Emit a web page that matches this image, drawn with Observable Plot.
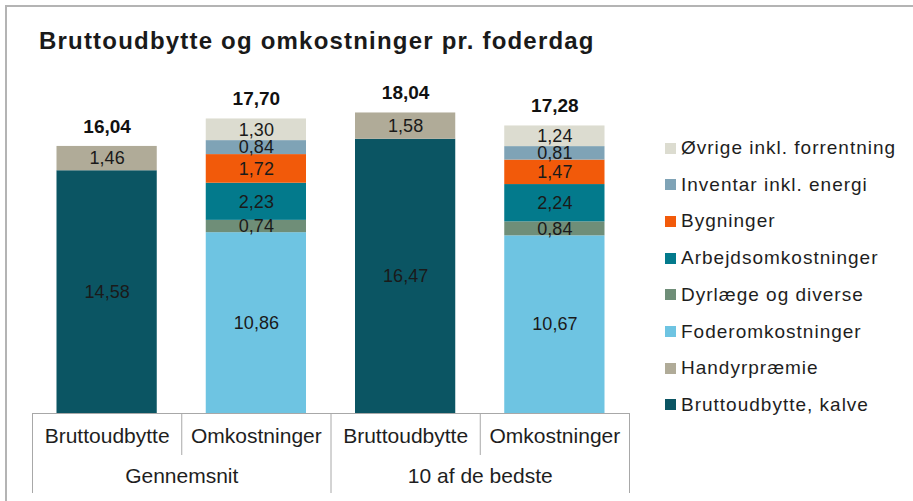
<!DOCTYPE html>
<html>
<head>
<meta charset="utf-8">
<script src="https://cdn.jsdelivr.net/npm/d3@7"></script>
<script src="https://cdn.jsdelivr.net/npm/@observablehq/plot@0.6"></script>
<style>
  html, body { margin: 0; padding: 0; background: #fff; }
  #wrap { position: relative; width: 913px; height: 501px; overflow: hidden; background: #fff;
          font-family: "Liberation Sans", Arial, sans-serif; color: #1a1a1a; }
  #frame { position: absolute; left: 5px; top: 5px; width: 1200px; height: 1200px;
           border-left: 2px solid #b4b4b4; border-top: 2px solid #b4b4b4; pointer-events: none; }
  #title { position: absolute; left: 39px; top: 26px; font-size: 24px; font-weight: bold;
           letter-spacing: 1.2px; white-space: nowrap; line-height: 30px; }
  #chart { position: absolute; left: 0; top: 0; }
  #legend { position: absolute; left: 0; top: 0; }
  .li { position: absolute; left: 665px; height: 24px; display: flex; align-items: center; white-space: nowrap; }
  .sw { width: 11px; height: 11px; margin-right: 5px; flex: none; }
  .lt { font-size: 19px; letter-spacing: 1px; color: #1e1e1e; }
</style>
</head>
<body>
<div id="wrap">
  <div id="chart"></div>
  <div id="title">Bruttoudbytte og omkostninger pr. foderdag</div>
  <div id="legend"></div>
  <div id="frame"></div>
</div>
<script>
// ---- data ----
const groups = ["Gennemsnit", "10 af de bedste"];
const categories = ["Bruttoudbytte", "Omkostninger", "Bruttoudbytte", "Omkostninger"];
// series in stacking order (bottom to top)
const series = [
  "Bruttoudbytte, kalve",
  "Handyrpræmie",
  "Foderomkostninger",
  "Dyrlæge og diverse",
  "Arbejdsomkostninger",
  "Bygninger",
  "Inventar inkl. energi",
  "Øvrige inkl. forrentning"
];
const colors = ["#0b5563", "#b0ab98", "#6ec4e2", "#6f8e78", "#037a8c", "#f25a0a", "#7fa3b6", "#dcdcd0"];
// values per bar, same order as series (null = not present)
const bar1 = [14.58, 1.46, null, null, null, null, null, null];
const bar2 = [null, null, 10.86, 0.74, 2.23, 1.72, 0.84, 1.30];
const bar3 = [16.47, 1.58, null, null, null, null, null, null];
const bar4 = [null, null, 10.67, 0.84, 2.24, 1.47, 0.81, 1.24];
const totals = [16.04, 17.70, 18.04, 17.28];

// ---- build table ----
const fmt = v => d3.format(".2f")(v).replace(".", ",");
const bars = [bar1, bar2, bar3, bar4];
const segments = [];
bars.forEach((vals, i) => {
  let acc = 0;
  vals.forEach((v, s) => {
    if (v == null) return;
    segments.push({i, series: series[s], value: v, y1: acc, y2: acc + v});
    acc += v;
  });
});
const barIndex = categories.map((c, i) => i);
const totalRows = totals.map((t, i) => ({i, total: t}));
const groupRows = groups.map((g, k) => ({k, name: g}));

const stroke = "#a8a8a8";
const chart = Plot.plot({
  width: 913,
  height: 501,
  marginLeft: 32,
  marginRight: 284,
  marginTop: 80,
  marginBottom: 88,
  style: {background: "transparent", overflow: "visible", fontFamily: "Liberation Sans, Arial, sans-serif"},
  x: {domain: [0, 4], axis: null, label: null},
  y: {domain: [0, 20], axis: null, label: null},
  color: {domain: series, range: colors},
  marks: [
    Plot.rectY(segments, {x1: "i", x2: d => d.i + 1, y1: "y1", y2: "y2", fill: "series",
      insetLeft: 24.5, insetRight: 24.5}),
    Plot.text(segments, {x: d => d.i + 0.5, y: d => (d.y1 + d.y2) / 2, text: d => fmt(d.value),
      fontSize: 18, fill: "#1a1a1a", letterSpacing: 1}),
    Plot.text(totalRows, {x: d => d.i + 0.5, y: "total", text: d => fmt(d.total), dy: -20,
      fontSize: 19, fontWeight: "bold", fill: "#111", letterSpacing: 1}),
    Plot.ruleY([0], {stroke}),
    Plot.axisX([0, 2, 4], {anchor: "bottom", tickSize: 80, tickFormat: () => "", label: null, stroke}),
    Plot.axisX([1, 3], {anchor: "bottom", tickSize: 42, tickFormat: () => "", label: null, stroke}),
    Plot.text(barIndex, {x: d => d + 0.5, frameAnchor: "bottom", dy: 29, text: d => categories[d],
      fontSize: 21, fill: "#1e1e1e", letterSpacing: 0.9}),
    Plot.text(groupRows, {x: d => d.k * 2 + 1, frameAnchor: "bottom", dy: 69, text: "name",
      fontSize: 21, fill: "#1e1e1e", letterSpacing: 1.1})
  ]
});
document.getElementById("chart").appendChild(chart);

// ---- legend (top to bottom = reverse stacking order) ----
const legend = document.getElementById("legend");
const legendOrder = series.slice().reverse();
legendOrder.forEach((name, k) => {
  const item = document.createElement("div");
  item.className = "li";
  item.style.top = (136 + k * 36.7) + "px";
  const sw = document.createElement("div");
  sw.className = "sw";
  sw.style.background = colors[series.indexOf(name)];
  const t = document.createElement("span");
  t.className = "lt";
  t.textContent = name;
  item.appendChild(sw);
  item.appendChild(t);
  legend.appendChild(item);
});
</script>
</body>
</html>
